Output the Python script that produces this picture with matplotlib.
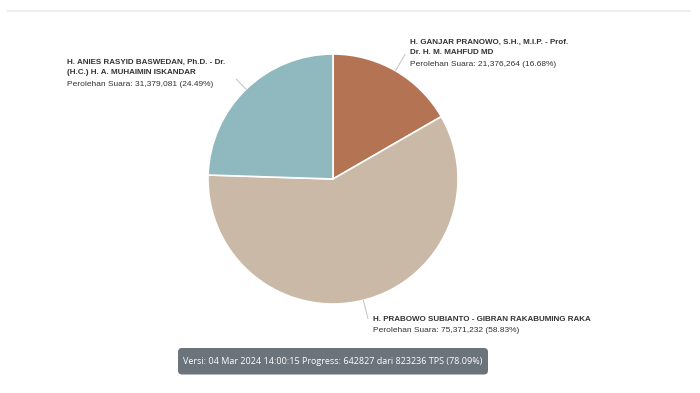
import numpy as np
import matplotlib.pyplot as plt
from matplotlib.patches import FancyBboxPatch

W, H = 700, 393

# data (clockwise from the top)
names = ['H. GANJAR PRANOWO, S.H., M.I.P. - Prof.\nDr. H. M. MAHFUD MD',
         'H. PRABOWO SUBIANTO - GIBRAN RAKABUMING RAKA',
         'H. ANIES RASYID BASWEDAN, Ph.D. - Dr.\n(H.C.) H. A. MUHAIMIN ISKANDAR']
votes = [21376264, 75371232, 31379081]
colors = ['#b47454', '#c9b9a6', '#8fb9be']
label_pos = [(410, 39), (373, 316), (67, 59)]   # pixel, top-left of label

progress_text = 'Versi: 04 Mar 2024 14:00:15 Progress: 642827 dari 823236 TPS (78.09%)'


def px(x, y):
    return x / W, 1 - y / H


def main():
    plt.rcParams['font.family'] = ['Liberation Sans', 'DejaVu Sans']
    fig = plt.figure(figsize=(W / 100, H / 100), dpi=100)

    # pie: centre (333,179), radius 125 px
    ax = fig.add_axes([208 / W, (H - 304) / H, 250 / W, 250 / H])
    ax.pie(votes, colors=colors, startangle=90, counterclock=False,
           wedgeprops=dict(edgecolor='white', linewidth=1.2))
    ax.set_xlim(-1, 1)
    ax.set_ylim(-1, 1)
    ax.set_aspect('equal')
    ax.axis('off')

    total = sum(votes)
    start = 90.0
    for name, v, (lx, ly) in zip(names, votes, label_pos):
        share = v / total
        mid = np.deg2rad(start - share * 360 / 2)
        start -= share * 360
        r_out = 1.11 if lx < 200 else 1.15
        ax.plot([np.cos(mid), r_out * np.cos(mid)],
                [np.sin(mid), r_out * np.sin(mid)],
                color='#c8c8c8', lw=0.8, clip_on=False)

        n_lines = name.count('\n') + 1
        x, y = px(lx, ly)
        fig.text(x, y, name, fontsize=5.8, fontweight='bold', color='#333333',
                 va='top', ha='left', linespacing=1.7)
        x2, y2 = px(lx, ly + 10.8 * n_lines)
        fig.text(x2, y2, f'Perolehan Suara: {v:,} ({share * 100:.2f}%)',
                 fontsize=6.0, color='#333333', va='top', ha='left')

    # top rule
    fig.add_artist(plt.Line2D([8 / W, 690 / W], [1 - 11 / H] * 2,
                              color='#eeeeee', lw=1.5))

    # progress box
    box = FancyBboxPatch((1.78, 0.185), 3.10, 0.265,
                         boxstyle='round,pad=0,rounding_size=0.04',
                         transform=fig.dpi_scale_trans,
                         facecolor='#6b737b', edgecolor='none')
    fig.add_artist(box)
    fig.text(333 / W, 1 - 361.5 / H, progress_text, color='white', fontsize=6.5,
             family=['Open Sans', 'DejaVu Sans'], ha='center', va='center')

    fig.savefig('out.png', dpi=100)


if __name__ == '__main__':
    main()
